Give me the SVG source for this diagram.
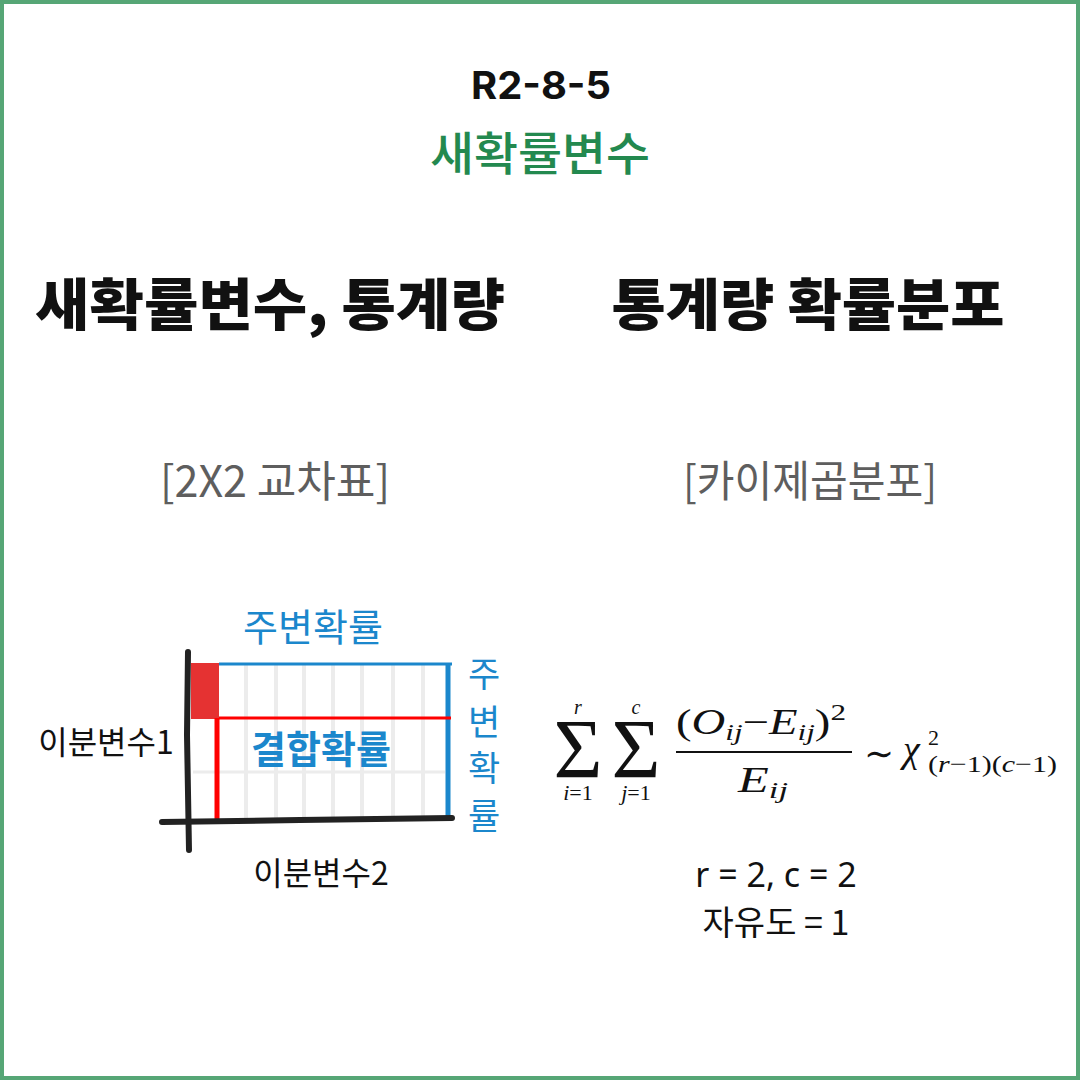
<svg xmlns="http://www.w3.org/2000/svg" width="1080" height="1080" viewBox="0 0 1080 1080">
<style>
.kr{font-family:"Noto Sans CJK KR","Noto Sans",sans-serif;}
.math{font-family:"Liberation Serif","DejaVu Serif",serif;fill:#111;}
.it{font-style:italic;}
.blue{fill:#1b87cc;}
.grid{stroke:#ececec;stroke-width:4;}
</style>
<rect x="2" y="2" width="1076" height="1076" fill="#ffffff" stroke="#56a676" stroke-width="4"/>
<g id="title">
<text x="541" y="99" text-anchor="middle" font-family="Inter,'Noto Sans',sans-serif" font-weight="700" font-size="38" fill="#111" textLength="140" lengthAdjust="spacingAndGlyphs">R2-8-5</text>
<text class="kr" x="540" y="170" text-anchor="middle" font-weight="500" font-size="46" fill="#23894f" textLength="220" lengthAdjust="spacingAndGlyphs">새확률변수</text>
</g>
<g id="heading-left">
<text class="kr" x="270" y="325" text-anchor="middle" font-weight="900" font-size="56" fill="#111" textLength="470" lengthAdjust="spacingAndGlyphs">새확률변수, 통계량</text>
</g>
<g id="heading-right">
<text class="kr" x="808" y="325" text-anchor="middle" font-weight="900" font-size="56" fill="#111" textLength="393" lengthAdjust="spacingAndGlyphs">통계량 확률분포</text>
</g>
<g id="label-crosstab">
<text class="kr" x="275" y="497" text-anchor="middle" font-weight="400" font-size="43" fill="#5e5e5e" textLength="230" lengthAdjust="spacingAndGlyphs">[2X2 교차표]</text>
</g>
<g id="label-chisq">
<text class="kr" x="810" y="497" text-anchor="middle" font-weight="400" font-size="43" fill="#5e5e5e" textLength="254" lengthAdjust="spacingAndGlyphs">[카이제곱분포]</text>
</g>
<g id="crosstab">
<g class="grid">
<line x1="246" y1="664" x2="246" y2="820"/>
<line x1="276" y1="664" x2="276" y2="820"/>
<line x1="304" y1="664" x2="304" y2="820"/>
<line x1="333" y1="664" x2="333" y2="820"/>
<line x1="362" y1="664" x2="362" y2="820"/>
<line x1="393" y1="664" x2="393" y2="820"/>
<line x1="423" y1="664" x2="423" y2="820"/>
<line x1="193" y1="772" x2="445" y2="772" stroke-width="3"/>
</g>
<rect x="191" y="663" width="28" height="56" fill="#e53232"/>
<line x1="219" y1="664" x2="452" y2="664" stroke="#1b87cc" stroke-width="3"/>
<line x1="448" y1="663" x2="448" y2="821" stroke="#1b87cc" stroke-width="5"/>
<line x1="219" y1="718" x2="451" y2="718" stroke="#ff0000" stroke-width="3"/>
<line x1="217" y1="718" x2="217" y2="820" stroke="#ff0000" stroke-width="5"/>
<path d="M188 652 L187 735 L189 850" fill="none" stroke="#222" stroke-width="6" stroke-linecap="round"/>
<path d="M162 822 L300 820 L452 818" fill="none" stroke="#222" stroke-width="6" stroke-linecap="round"/>
<text class="kr blue" x="313" y="641" text-anchor="middle" font-size="38">주변확률</text>
<text class="kr blue" x="321" y="763" text-anchor="middle" font-weight="700" font-size="38">결합확률</text>
<text class="kr blue" x="484" y="687" text-anchor="middle" font-size="35">주</text>
<text class="kr blue" x="484" y="735" text-anchor="middle" font-size="35">변</text>
<text class="kr blue" x="484" y="781" text-anchor="middle" font-size="35">확</text>
<text class="kr blue" x="484" y="829" text-anchor="middle" font-size="35">률</text>
<text class="kr" x="106" y="754" text-anchor="middle" font-size="32" fill="#111">이분변수1</text>
<text class="kr" x="321" y="885" text-anchor="middle" font-size="32" fill="#111">이분변수2</text>
</g>
<g id="formula">
<text class="math" x="578" y="778" text-anchor="middle" font-size="84" textLength="49" lengthAdjust="spacingAndGlyphs">Σ</text>
<text class="math it" x="578" y="714" text-anchor="middle" font-size="20">r</text>
<text class="math" x="578" y="800" text-anchor="middle" font-size="22"><tspan class="it">i</tspan>=1</text>
<text class="math" x="636" y="778" text-anchor="middle" font-size="84" textLength="49" lengthAdjust="spacingAndGlyphs">Σ</text>
<text class="math it" x="636" y="714" text-anchor="middle" font-size="20">c</text>
<text class="math" x="636" y="800" text-anchor="middle" font-size="22"><tspan class="it">j</tspan>=1</text>
<text class="math" x="676" y="734" font-size="36" textLength="170" lengthAdjust="spacingAndGlyphs">(<tspan class="it">O</tspan><tspan class="it" font-size="24" dy="6">ij</tspan><tspan dy="-6">−</tspan><tspan class="it">E</tspan><tspan class="it" font-size="24" dy="6">ij</tspan><tspan dy="-6">)</tspan><tspan font-size="24" dy="-14">2</tspan></text>
<line x1="676" y1="752" x2="852" y2="752" stroke="#111" stroke-width="2"/>
<text class="math" x="738" y="792" font-size="35" textLength="50" lengthAdjust="spacingAndGlyphs"><tspan class="it">E</tspan><tspan class="it" font-size="24" dy="6">ij</tspan></text>
<text class="math" x="879" y="766" text-anchor="middle" font-size="36">∼</text>
<text class="math it" x="903" y="762" font-size="38">χ</text>
<text class="math" x="928" y="745" font-size="22">2</text>
<text class="math" x="928" y="772" font-size="24" textLength="129" lengthAdjust="spacingAndGlyphs">(<tspan class="it">r</tspan>−1)(<tspan class="it">c</tspan>−1)</text>
</g>
<g id="params">
<text x="776" y="887" text-anchor="middle" font-family="'Noto Sans','Noto Sans CJK KR',sans-serif" font-size="34" fill="#111">r = 2, c = 2</text>
<text class="kr" x="776" y="935" text-anchor="middle" font-size="34" fill="#111">자유도 = 1</text>
</g>
</svg>
